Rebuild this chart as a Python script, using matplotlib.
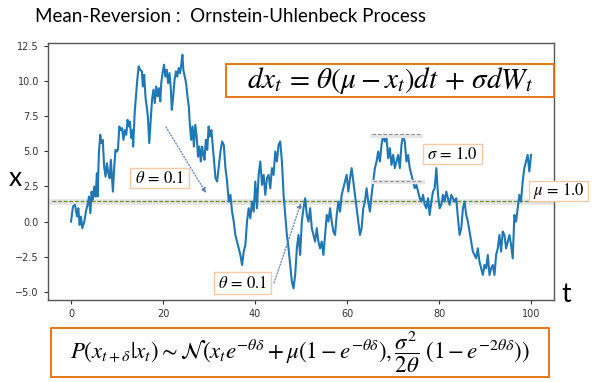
import matplotlib
matplotlib.use("Agg")
import matplotlib.pyplot as plt
from matplotlib.patches import Rectangle
from matplotlib.lines import Line2D

# sample path (time, value)
t_vals = [
    0, 0.43, 0.87, 1.3, 1.59, 1.88, 2.16, 2.45, 2.89, 3.3, 3.6, 3.9, 4.2, 4.47, 4.76,
    5.05, 5.34, 5.63, 5.77, 6.06, 6.35, 6.6, 6.9, 7.2, 7.5, 7.8, 8.1, 8.4, 8.66, 9.1,
    9.4, 9.67, 9.96, 10.2, 10.5, 10.8, 11.1, 11.4, 11.7, 12.0, 12.3, 12.55, 12.8, 13.1,
    13.4, 13.5, 13.85, 14.15, 14.4, 14.7, 15.0,
    15.4, 15.6, 15.9, 16.2, 16.45, 16.7, 17.0, 17.3, 17.6, 17.9, 18.2, 18.5, 18.8, 19.1,
    19.4, 19.6, 19.9, 20.2, 20.5, 20.8, 21.1, 21.4, 21.7, 21.9, 22.2, 22.5, 22.8, 23.1,
    23.4, 23.7, 23.95, 24.2, 24.4, 24.7, 25.0, 25.3, 25.6, 25.8, 26.1, 26.4, 26.7, 27.0,
    27.3, 27.6, 27.9, 28.2, 28.5, 28.7, 29.0, 29.3, 29.6, 29.9, 30.2, 30.5, 30.8,
    31.39, 31.75, 32.47, 32.83, 33.19, 33.55, 33.91, 34.27, 34.63, 34.99, 35.35, 35.71,
    36.07, 36.44, 36.8, 37.16, 37.52, 37.88, 38.24, 38.6, 38.96, 39.32, 39.68, 40.04,
    40.4, 40.76, 41.13, 41.49, 41.85, 42.21, 42.57, 42.93, 43.29, 43.65, 44.01, 44.37,
    44.73, 45.09, 45.45, 45.82, 46.18, 46.54, 46.9, 47.26, 47.62, 47.98, 48.34, 48.7,
    49.06, 49.42, 49.78, 50.14, 50.51, 50.87, 51.23, 51.59, 51.95, 52.31, 52.67, 53.03,
    53.39, 53.75, 54.11, 54.47, 54.83, 55.2, 55.56, 55.92, 56.28, 56.64, 57.0, 57.36,
    57.72, 58.08, 58.44, 58.8, 59.16, 59.52, 59.88, 60.25, 60.61, 60.97, 61.33, 61.69,
    62.05, 62.41, 62.77, 63.13, 63.49, 63.85, 64.21, 64.57, 64.94, 65.3, 65.66, 66.02,
    66.38, 66.74,
    67.1, 67.46, 67.82, 68.18, 68.54, 68.9, 69.26, 69.62, 69.99, 70.35, 70.71, 71.07,
    71.43, 71.79, 72.15, 72.51, 72.87, 73.23, 73.59, 73.95, 74.31, 74.68, 75.04, 75.4,
    75.76, 76.12, 76.48, 76.84, 77.2, 77.56, 77.92, 78.28, 78.64, 79.0, 79.37, 79.73,
    80.09, 80.45, 80.81, 81.17, 81.53, 81.89, 82.25, 82.61, 82.97, 83.33, 83.69, 84.06,
    84.42, 84.78, 85.14, 85.5, 85.86, 86.22, 86.58, 86.94, 87.3, 87.66, 88.02, 88.38,
    88.74, 89.1, 89.47, 89.83, 90.19, 90.55, 90.91, 91.27, 91.63, 91.99, 92.35, 92.71,
    93.07, 93.43, 93.79, 94.16, 94.52, 94.88, 95.24, 95.6, 95.96, 96.32, 96.68, 97.04,
    97.4, 97.76, 98.12, 98.48, 98.85, 99.21, 99.57, 99.93,
]
x_vals = [
    0, 1.07, 1.19, 0.36, 0.95, -0.24, 0.36, -0.47, 0.0, 0.83, 1.19, 1.78, 0.6, 2.13, 1.55,
    2.49, 1.78, 3.44, 1.78, 4.86, 6.17, 5.58, 5.8, 3.91, 3.2, 4.15, 3.44, 3.08, 4.39, 2.13,
    3.91, 5.1, 4.98, 5.1, 6.76, 6.5, 6.64, 5.81, 6.5, 6.17, 7.23, 6.76, 7.1, 5.93,
    6.5, 5.33, 7.82, 9.01, 10.08, 11.03, 10.8,
    10.67, 9.6, 10.43, 8.78, 8.18, 7.47, 5.58, 7.11, 8.66, 9.37, 8.42, 9.6, 8.9, 9.48,
    8.54, 9.84, 10.55, 11.15, 10.3, 10.79, 9.84, 10.55, 9.37, 7.94, 8.9, 10.08, 10.67, 10.3,
    10.91, 10.55, 11.15, 11.86, 10.79, 10.3, 9.84, 8.9, 8.18, 7.0, 5.81, 6.76, 5.33, 6.88,
    6.05, 4.62, 5.33, 4.27, 5.33, 4.86, 4.39, 5.81, 5.1, 6.76, 6.05, 6.5, 5.33,
    3.09, 2.85, 4.98, 5.69, 5.45, 3.8, 2.85, 1.42, 1.9, 0.71, 0.0, -0.95,
    -1.42, -1.9, -2.37, -3.08, -2.13, -1.66, 0.0, 0.95, 0.24, 1.42, 0.71, 2.85,
    0.95, 3.32, 4.27, 2.61, 3.32, 1.9, 3.09, 3.32, 2.37, 3.8, 3.32, 4.98,
    4.27, 5.45, 5.69, 4.27, 1.9, 0.47, -0.95, -1.9, -3.08, -4.27, -4.74, -3.79,
    -1.9, -0.95, -2.37, 0.0, 0.95, 1.66, 0.47, 0.0, 0.95, -0.47, -0.95, -1.42,
    -0.47, -1.42, -1.9, -1.42, -2.37, -0.95, 0.47, 0.0, 0.95, 0.0, -0.71, -0.95,
    0.47, 1.42, 0.71, 1.9, 2.37, 2.85, 3.32, 2.13, 3.09, 3.8, 2.85, 1.9,
    0.95, 0.0, -0.95, -0.47, 0.95, 1.42, 2.37, 1.42, 0.71, 1.9, 2.85, 3.8,
    4.27, 4.98,
    4.27, 5.45, 6.17, 5.69, 5.93, 4.51, 5.22, 4.03, 4.74, 3.8, 4.27, 4.74,
    3.8, 5.45, 6.17, 5.69, 4.27, 4.74, 3.8, 3.32, 2.85, 2.37, 2.61, 2.13,
    1.66, 1.42, 1.9, 1.19, 0.95, 1.66, 0.47, 1.42, 2.13, 2.37, 3.8, 1.9,
    0.95, 1.19, 1.9, 1.42, 2.13, 1.66, 1.19, 1.9, 1.66, 1.42, 1.66, 0.24,
    -0.95, -0.47, 0.95, 1.42, 0.47, 0.0, -0.71, -1.42, -2.13, -2.37, -2.61, -1.9,
    -2.85, -3.32, -3.79, -3.08, -3.32, -2.37, -3.79, -3.32, -3.08, -3.79, -2.37, -1.9,
    -0.95, -2.13, -0.71, -0.95, -1.9, -1.42, -0.95, -1.66, -2.61, 0.47, 0.0, 0.95,
    1.9, 1.42, 2.85, 3.8, 4.27, 4.74, 3.56, 4.74,
]

mu_line = 1.44
title = "Mean-Reversion :  Ornstein-Uhlenbeck Process"
sde = r"$dx_t \,=\, \theta(\mu - x_t)dt \,+\, \sigma dW_t$"
transition = (r"$P(x_{t+\delta}|x_t) \sim \mathcal{N}(x_t e^{-\theta\delta}"
              r" + \mu(1 - e^{-\theta\delta}), \dfrac{\sigma^2}{2\theta}\ (1 - e^{-2\theta\delta}))$")

plt.rcParams['mathtext.fontset'] = 'stix'

W, H = 592, 382


def fx(x):
    return x / W


def fy(y):
    return 1 - y / H


def box(x0, y0, x1, y1, ec, lw):
    fig.add_artist(Rectangle((fx(x0), fy(y1)), fx(x1) - fx(x0), fy(y0) - fy(y1),
                             transform=fig.transFigure, fc='white', ec=ec, lw=lw, zorder=3))


def label(x, y, s, size):
    fig.text(fx(x), fy(y), s, fontsize=size, ha='center', va='center', zorder=4)


fig = plt.figure(figsize=(W / 100, H / 100), dpi=100)
ax = fig.add_axes([fx(48), fy(300), fx(554) - fx(48), fy(43) - fy(300)])

ax.axhline(mu_line - 0.08, xmin=0.008, xmax=1, color='#e4e4e4', lw=4, zorder=1)
ax.axhline(mu_line, xmin=0.008, xmax=1, color='#6b8e23', lw=0.9, ls=(0, (3, 1.5)), zorder=2)
ax.plot(t_vals, x_vals, color='#1f77b4', lw=1.5, zorder=3)

ax.tick_params(labelsize=7, colors='#333333', length=3, width=0.8)
for s in ax.spines.values():
    s.set_color('#555555')
    s.set_linewidth(1)

# text outside the axes
fig.text(fx(35), fy(16), title, fontsize=13.5, family='Lato', va='center', ha='left')
fig.text(fx(15), fy(178), 'x', fontsize=19, family='Lato', va='center', ha='center')
fig.text(fx(566), fy(295), 't', fontsize=19, family='Lato', va='center', ha='center')

# sigma band guides
for yy, x0, x1 in [(134, 372, 421), (180.7, 373, 423)]:
    fig.add_artist(Line2D([fx(x0), fx(x1)], [fy(yy + 1.5), fy(yy + 1.5)], transform=fig.transFigure,
                          color='#e6e6e6', lw=3, zorder=2))
    fig.add_artist(Line2D([fx(x0), fx(x1)], [fy(yy), fy(yy)], transform=fig.transFigure,
                          color='#8c8c8c', lw=0.8, ls=(0, (3, 2)), zorder=2))

# arrows
for (x0, y0), (x1, y1) in [((166, 127), (206, 193)), ((274, 283), (301, 203))]:
    ax.annotate('', xy=(x1, H - y1), xytext=(x0, H - y0), xycoords='figure pixels',
                textcoords='figure pixels',
                arrowprops=dict(arrowstyle='-|>', ls=(0, (1, 1.5)), color='#5b80bb', lw=0.9,
                                mutation_scale=7, shrinkA=0, shrinkB=0))

# boxes
box(226, 64, 554, 97, '#e36c0a', 1.3)
label(390, 80.5, sde, 21)
box(51, 328, 549, 377, '#e36c0a', 1.3)
label(300, 352, transition, 16.5)

light = '#f6c9a8'
box(130, 168, 189, 188, light, 1)
label(159.5, 178, r"$\theta \,=\, 0.1$", 12)
box(214, 272, 271, 294, light, 1)
label(242.5, 283, r"$\theta \,=\, 0.1$", 12)
box(423, 144, 482, 164, light, 1)
label(452.5, 154, r"$\sigma \,=\, 1.0$", 12)
box(529, 181, 588, 201, light, 1)
label(558.5, 191, r"$\mu \,=\, 1.0$", 12)

fig.savefig('out.png', dpi=100)
